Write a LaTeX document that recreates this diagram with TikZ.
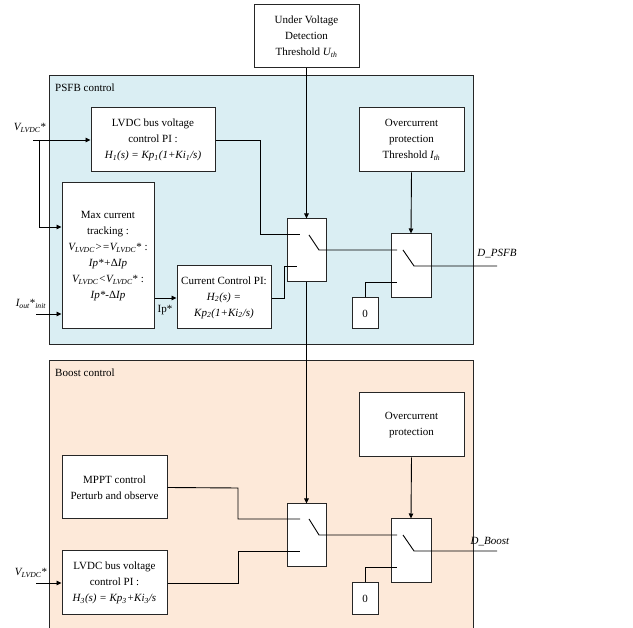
\documentclass[tikz,border=0pt]{standalone}
\usepackage{fontspec}
\setmainfont{Liberation Serif}
\usetikzlibrary{arrows.meta}
\newcommand\sbs[1]{\textsubscript{#1}}
\definecolor{psfbfill}{HTML}{DAEEF3}
\definecolor{boostfill}{HTML}{FDE9D9}
\begin{document}
\begin{tikzpicture}[x=1pt,y=-1pt,
  blk/.style={draw=black!85,line width=1pt,fill=white,inner sep=0pt,align=center,
    font=\fontsize{11}{16}\selectfont},
  wire/.style={line width=0.9pt},
  arr/.style={wire,-{Triangle[length=5pt,width=4.5pt]}},
  lbl/.style={inner sep=0pt,font=\fontsize{11}{13}\selectfont}]
\useasboundingbox (0,0) rectangle (633,628);
% regions
\path[fill=psfbfill,draw=black!85,line width=1pt] (49,76) rectangle (473,345);
\fill[boostfill] (49,361) rectangle (473,628);
\draw[black!85,line width=1pt] (49,628) -- (49,361) -- (473,361) -- (473,628);
\node[lbl,anchor=west] (psfbl) at (55,88) {PSFB control};
\node[lbl,anchor=west] (boostl) at (55,373) {Boost control};
% PSFB blocks
\node[blk,minimum width=105pt,minimum height=63pt] (uvd) at (306.5,36.5) {Under Voltage\\Detection\\Threshold \textit{U\sbs{th}}};
\node[blk,minimum width=124pt,minimum height=64pt] (pi1) at (153,140) {LVDC bus voltage\\control PI :\\\textit{H\sbs{1}(s) = Kp\sbs{1}(1+Ki\sbs{1}/s)}};
\node[blk,minimum width=105pt,minimum height=64pt] (oc1) at (411.5,140) {Overcurrent\\protection\\Threshold \textit{I\sbs{th}}};
\node[blk,minimum width=92pt,minimum height=146pt] (maxc) at (108,256) {Max current\\tracking :\\\textit{V\sbs{LVDC}>=V\sbs{LVDC}}* :\\\textit{Ip*+}Δ\textit{Ip}\\\textit{V\sbs{LVDC}<V\sbs{LVDC}}* :\\\textit{Ip*-}Δ\textit{Ip}};
\node[blk,minimum width=94pt,minimum height=63pt] (cc) at (224,297.5) {Current Control PI:\\\textit{H\sbs{2}(s) =}\\\textit{Kp\sbs{2}(1+Ki\sbs{2}/s)}};
\node[blk,minimum width=39pt,minimum height=63pt] (sw1) at (306.5,250.5) {};
\node[blk,minimum width=40pt,minimum height=64pt] (sw2) at (411,266) {};
\node[blk,minimum width=26pt,minimum height=31pt] (z1) at (365,313.5) {0};
% Boost blocks
\node[blk,minimum width=105pt,minimum height=64pt] (oc2) at (411.5,425) {Overcurrent\\protection};
\node[blk,minimum width=105pt,minimum height=63pt] (mppt) at (114.5,487.5) {MPPT control\\Perturb and observe};
\node[blk,minimum width=105pt,minimum height=64pt] (pi3) at (114.5,583) {LVDC bus voltage\\control PI :\\\textit{H\sbs{3}(s) = Kp\sbs{3}+Ki\sbs{3}/s}};
\node[blk,minimum width=39pt,minimum height=63pt] (bsw1) at (306.5,535.5) {};
\node[blk,minimum width=40pt,minimum height=64pt] (bsw2) at (411,551) {};
\node[blk,minimum width=26pt,minimum height=32pt] (z2) at (365,599) {0};
% labels
\node[lbl] (vin1) at (30,128) {\textit{V\sbs{LVDC}}*};
\node[lbl] (iout) at (31,304) {\textit{I\sbs{out}}*\sbs{\textit{init}}};
\node[lbl] (ipl) at (165,310) {Ip*};
\node[lbl] (dpsfb) at (497,254) {\textit{D\_PSFB}};
\node[lbl] (dboost) at (490,542) {\textit{D\_Boost}};
\node[lbl] (vin2) at (31,573) {\textit{V\sbs{LVDC}}*};
% coordinates
\coordinate (vinA) at (33,140);
\coordinate (vinB) at (39,140);
\coordinate (ioutA) at (36,314);
\coordinate (vin2A) at (36,583);
\coordinate (s1a) at (300,234);
\coordinate (s1b) at (297,266);
\coordinate (s1p) at (309,235);
\coordinate (s1o) at (319,250);
\coordinate (s2a) at (397,250);
\coordinate (s2b) at (397,282);
\coordinate (s2p) at (403,250);
\coordinate (s2o) at (414,266);
\coordinate (dpo) at (497,266);
\coordinate (b1a) at (300,519);
\coordinate (b1b) at (300,551);
\coordinate (b1p) at (309,519);
\coordinate (b1o) at (319,535);
\coordinate (b2a) at (397,535);
\coordinate (b2b) at (397,567);
\coordinate (b2p) at (403,535);
\coordinate (b2o) at (414,551);
\coordinate (dbo) at (497,551);
% PSFB connectors
\draw[arr] (uvd.south) -- (sw1.north);
\draw[arr] (sw1.south) -- (bsw1.north);
\draw[arr] (oc1.south) -- (sw2.north);
\draw[arr] (oc2.south) -- (bsw2.north);
\draw[arr] (vinA) -- (pi1.west);
\draw[arr] (vinB) |- (maxc.west |- 0,227);
\draw[arr] (ioutA) -- (maxc.west |- ioutA);
\draw[arr] (maxc.east |- 0,298) -- (cc.west |- 0,298);
\draw[wire] (pi1.east) -- (260,140) |- (s1a);
\draw[wire] (cc.east |- 0,298) -- (284,298) |- (s1b);
\draw[wire] (s1p) -- (s1o) -- (s2a);
\draw[wire] (s2p) -- (s2o) -- (dpo);
\draw[wire] (z1.north) |- (s2b);
% Boost connectors
\draw[wire] (mppt.east) -- (238,488) |- (b1a);
\draw[wire] (pi3.east) -- (238,583) |- (b1b);
\draw[wire] (b1p) -- (b1o) -- (b2a);
\draw[wire] (b2p) -- (b2o) -- (dbo);
\draw[wire] (z2.north) |- (b2b);
\draw[arr] (vin2A) -- (pi3.west);
\end{tikzpicture}
\end{document}
